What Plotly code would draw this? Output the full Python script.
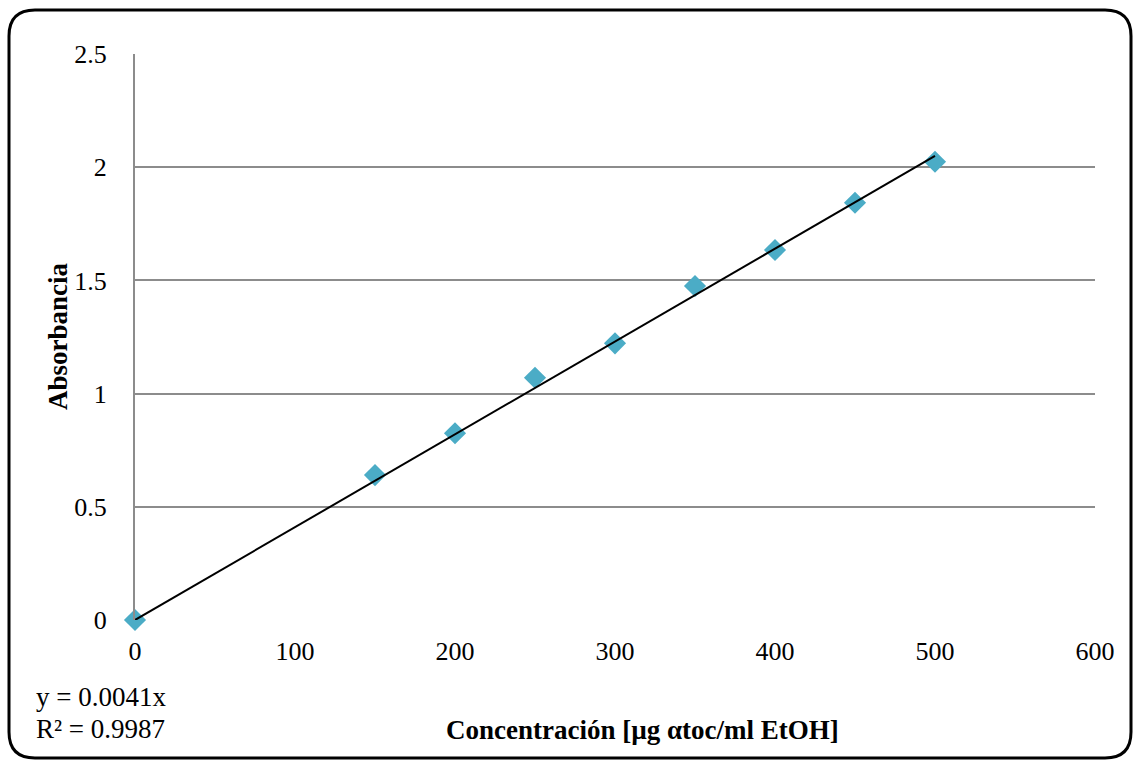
import plotly.graph_objects as go

# Calibration data: alpha-tocopherol concentration vs absorbance
conc = [0, 150, 200, 250, 300, 350, 400, 450, 500]
absorb = [0.0, 0.640, 0.825, 1.070, 1.222, 1.475, 1.634, 1.843, 2.024]

# Linear fit through the origin
slope = 0.0041
r2 = 0.9987
fit_x = [0, 500]
fit_y = [slope * v for v in fit_x]

x_ticks = [0, 100, 200, 300, 400, 500, 600]
y_ticks = [0, 0.5, 1, 1.5, 2, 2.5]
y_tick_text = ["0", "0.5", "1", "1.5", "2", "2.5"]

FONT = "Liberation Serif"
W, H = 1133, 761
L, R, T, B = 135, 38, 54, 141
pw, ph = W - L - R, H - T - B


def px(xp):
    return (xp - L) / pw


def py(yp):
    return (H - B - yp) / ph


fig = go.Figure()

fig.add_trace(go.Scatter(
    x=conc, y=absorb, mode="markers",
    marker=dict(symbol="diamond", size=17, color="#4BACC6", line=dict(width=0)),
    showlegend=False, cliponaxis=False,
))
fig.add_trace(go.Scatter(
    x=fit_x, y=fit_y, mode="lines",
    line=dict(color="black", width=2),
    showlegend=False, cliponaxis=False,
))

# Rounded outer frame
x0, x1, y0, y1, rad = 9, 1131, 10, 758, 26
path = (
    f"M {px(x0 + rad)},{py(y0)} L {px(x1 - rad)},{py(y0)} "
    f"Q {px(x1)},{py(y0)} {px(x1)},{py(y0 + rad)} "
    f"L {px(x1)},{py(y1 - rad)} "
    f"Q {px(x1)},{py(y1)} {px(x1 - rad)},{py(y1)} "
    f"L {px(x0 + rad)},{py(y1)} "
    f"Q {px(x0)},{py(y1)} {px(x0)},{py(y1 - rad)} "
    f"L {px(x0)},{py(y0 + rad)} "
    f"Q {px(x0)},{py(y0)} {px(x0 + rad)},{py(y0)} Z"
)
fig.add_shape(type="path", path=path, xref="paper", yref="paper",
              line=dict(color="black", width=3), layer="above")

# Axis titles
titles = [
    dict(text="Concentración [µg αtoc/ml EtOH]", x=px(642), y=py(730), angle=0),
    dict(text="Absorbancia", x=px(58), y=py(336), angle=-90),
]
for t in titles:
    fig.add_annotation(
        text=f"<b>{t['text']}</b>", x=t["x"], y=t["y"], xref="paper", yref="paper",
        showarrow=False, textangle=t["angle"],
        font=dict(size=27, family=FONT, color="black"),
        xanchor="center", yanchor="middle",
    )

# Trendline equation and coefficient of determination
for line, ypx in [(f"y = {slope}x", 697), (f"R² = {r2}", 729)]:
    fig.add_annotation(
        text=line, x=px(34), y=py(ypx), xref="paper", yref="paper",
        showarrow=False, xanchor="left", yanchor="middle",
        font=dict(size=27, family=FONT, color="black"),
    )

fig.update_layout(
    width=W, height=H,
    margin=dict(l=L, r=R, t=T, b=B),
    paper_bgcolor="white", plot_bgcolor="white",
    font=dict(family=FONT, size=26, color="black"),
    xaxis=dict(
        range=[0, 600], tickvals=x_ticks, ticktext=[str(v) for v in x_ticks],
        showgrid=False, zeroline=False, showline=False, ticks="",
        ticklabelstandoff=13, fixedrange=True,
    ),
    yaxis=dict(
        range=[0, 2.5], tickvals=y_ticks, ticktext=y_tick_text,
        showgrid=True, gridcolor="#8C8C8C", gridwidth=2,
        zeroline=False, showline=True, linecolor="#8C8C8C", linewidth=2,
        ticks="", ticklabelstandoff=21, fixedrange=True,
    ),
)

fig.write_html("out.html")
